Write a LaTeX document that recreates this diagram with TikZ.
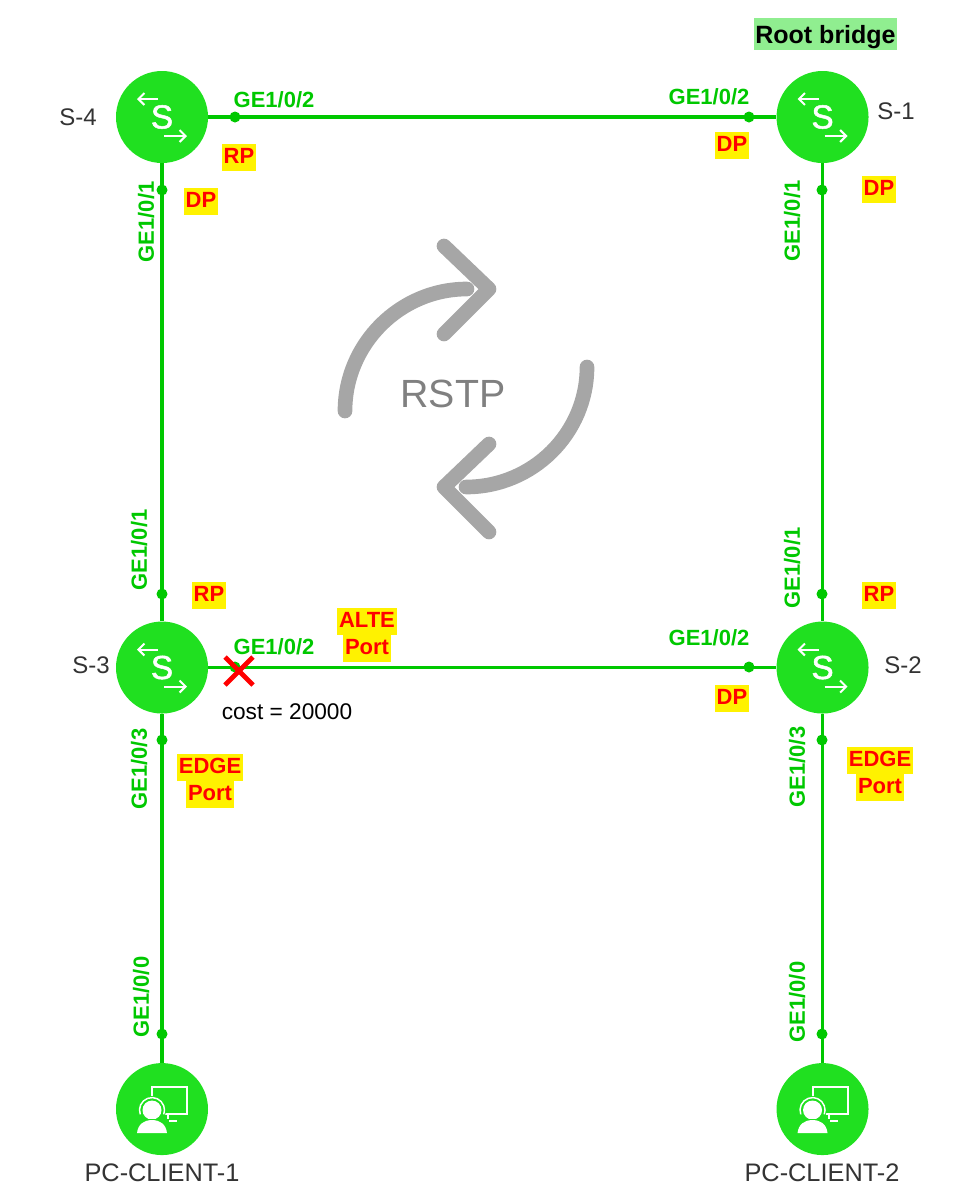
\documentclass[tikz,border=0pt]{standalone}
\usepackage{fontspec}
\setmainfont{Liberation Sans}
\newfontfamily\iconfont[FakeBold=1.5]{Liberation Sans}
\usetikzlibrary{arrows.meta,positioning}
\definecolor{devgreen}{RGB}{32,224,32}
\definecolor{linkgreen}{RGB}{0,200,0}
\definecolor{rootgreen}{RGB}{144,238,144}
\definecolor{loopgray}{RGB}{166,166,166}
\definecolor{namegray}{RGB}{51,51,51}
% yellow strip behind one line of a port role
\newcommand{\hlrole}[1]{\setlength{\fboxsep}{0pt}\colorbox{yellow}{\rule[-5.5pt]{0pt}{20.25pt}\hspace{1.3pt}#1\hspace{1.3pt}}}

\begin{document}
\begin{tikzpicture}[
    x=0.75pt, y=-0.75pt,
    device/.style={circle, fill=devgreen, minimum size=69pt, inner sep=0pt},
    link/.style={linkgreen, line width=2.4pt},
    portdot/.style={circle, fill=linkgreen, minimum size=8.25pt, inner sep=0pt},
    port/.style={text=linkgreen, font=\fontsize{16.5}{19}\selectfont\bfseries, inner sep=0pt},
    vport/.style={port, rotate=90},
    role/.style={text=red, font=\fontsize{16.5}{20.25}\selectfont\bfseries, inner sep=0pt, align=center},
    devname/.style={text=namegray, font=\fontsize{18}{21}\selectfont, inner sep=0pt},
    pcname/.style={devname, font=\fontsize{19}{22}\selectfont},
    loopline/.style={loopgray, line width=11pt, line cap=round, line join=round},
    icon/.style={white, line width=1.5pt},
    swicon/.pic={
        \node[text=white, inner sep=0pt, font=\iconfont\fontsize{25}{25}\selectfont] (-s) at (0,0) {S};
        \draw[icon, -{Straight Barb[length=4.5pt,width=9pt]}] (-4,-18) -- (-25,-18);
        \draw[icon, -{Straight Barb[length=4.5pt,width=9pt]}] (2,19) -- (25,19);
    },
    pcicon/.pic={
        \draw[white, line width=1.5pt] (-10,-22) rectangle (25,5);
        \draw[white, line width=1.5pt] (6,5) -- (6,12) (1,12) -- (15,12);
        \fill[devgreen] (-10,1) circle (14);
        \fill[white] (-10,1) circle (9.5);
        \draw[white, line width=1.1pt] (-10,1) ++(160:12.5) arc (160:380:12.5);
        \fill[devgreen] (-27,10) rectangle (7,24);
        \fill[white] (-25,24) .. controls (-24,15) and (-18,11) .. (-10,11) .. controls (-2,11) and (4,15) .. (5,24) -- cycle;
    }
]
    \useasboundingbox (0,0) rectangle (975,1197);

    % Switches
    \node[device] (s4) at (162,117) {};
    \node[device, right=426pt of s4] (s1) {};
    \node[device, below=343.5pt of s4] (s3) {};
    \node[device, below=343.5pt of s1] (s2) {};

    % Clients
    \node[device, below=261.75pt of s3] (pc1) {};
    \node[device, below=261.75pt of s2] (pc2) {};

    % Icons
    \pic (ics4) at (s4) {swicon};
    \pic (ics1) at (s1) {swicon};
    \pic (ics3) at (s3) {swicon};
    \pic (ics2) at (s2) {swicon};
    \pic (icpc1) at (pc1) {pcicon};
    \pic (icpc2) at (pc2) {pcicon};

    % Links
    \draw[link] (s4) -- (s1);
    \draw[link] (s4) -- (s3);
    \draw[link] (s1) -- (s2);
    \draw[link] (s3) -- (s2);
    \draw[link] (s3) -- (pc1);
    \draw[link] (s2) -- (pc2);

    % Port dots
    \node[portdot] (d4e) at (235,117) {};
    \node[portdot] (d4s) at (162,190) {};
    \node[portdot] (d1w) at (749,117) {};
    \node[portdot] (d1s) at (822,190) {};
    \node[portdot] (d3n) at (162,594) {};
    \node[portdot] (d3e) at (235,667) {};
    \node[portdot] (d3s) at (162,740) {};
    \node[portdot] (d2n) at (822,594) {};
    \node[portdot] (d2w) at (749,667) {};
    \node[portdot] (d2s) at (822,740) {};
    \node[portdot] (dpc1) at (162,1034) {};
    \node[portdot] (dpc2) at (822,1034) {};

    % Port names
    \node[port] (p4e) at (274,100) {GE1/0/2};
    \node[port] (p1w) at (709,97) {GE1/0/2};
    \node[port] (p3e) at (274,647) {GE1/0/2};
    \node[port] (p2w) at (709,638) {GE1/0/2};
    \node[vport] (p4s) at (146,222) {GE1/0/1};
    \node[vport] (p1s) at (792,221) {GE1/0/1};
    \node[vport] (p3n) at (139,550) {GE1/0/1};
    \node[vport] (p2n) at (792,568) {GE1/0/1};
    \node[vport] (p3s) at (139,769) {GE1/0/3};
    \node[vport] (p2s) at (797,767) {GE1/0/3};
    \node[vport] (ppc1) at (141,997) {GE1/0/0};
    \node[vport] (ppc2) at (797,1002) {GE1/0/0};

    % Port roles
    \node[role] (r4e) at (239,157) {\hlrole{RP}};
    \node[role] (r4s) at (201,201) {\hlrole{DP}};
    \node[role] (r1w) at (732,145) {\hlrole{DP}};
    \node[role] (r1s) at (879,189) {\hlrole{DP}};
    \node[role] (r3n) at (209,595) {\hlrole{RP}};
    \node[role] (r2n) at (879,595) {\hlrole{RP}};
    \node[role] (r2w) at (732,698) {\hlrole{DP}};
    \node[role] (r3e) at (367,635) {\hlrole{ALTE}\\\hlrole{Port}};
    \node[role] (r3s) at (210,781) {\hlrole{EDGE}\\\hlrole{Port}};
    \node[role] (r2s) at (880,774) {\hlrole{EDGE}\\\hlrole{Port}};

    % Blocked port
    \coordinate (xa) at (225,657);
    \coordinate (xb) at (253,685);
    \coordinate (xc) at (253,657);
    \coordinate (xd) at (225,685);
    \draw[red, line width=3.5pt] (xa) -- (xb);
    \draw[red, line width=3.5pt] (xc) -- (xd);
    \node[inner sep=0pt, font=\fontsize{17}{20}\selectfont] (cost) at (287,712) {cost = 20000};

    % Device names
    \node[devname] (n4) at (78,117) {S-4};
    \node[devname] (n1) at (896,111) {S-1};
    \node[devname] (n3) at (91,665) {S-3};
    \node[devname] (n2) at (903,665) {S-2};
    \node[pcname] (npc1) at (162,1173) {PC-CLIENT-1};
    \node[pcname] (npc2) at (822,1173) {PC-CLIENT-2};
    \node[fill=rootgreen, inner sep=0pt, text depth=0pt, minimum width=107.5pt, minimum height=24pt, font=\fontsize{18.75}{22}\selectfont\bfseries] (root) at (825.5,34) {Root bridge};

    % RSTP loop
    \node[text=gray, inner sep=0pt, font=\fontsize{29.5}{34}\selectfont] (rstp) at (453,394) {RSTP};
    \coordinate (la) at (345,411);
    \coordinate (lb) at (467,289);
    \coordinate (lc) at (587,367);
    \coordinate (ld) at (466,487);
    \draw[loopline] (la) .. controls (345,344) and (400,289) .. (lb);
    \draw[loopline] (444,246) -- (489,289) -- (444,334);
    \draw[loopline] (lc) .. controls (587,433) and (533,487) .. (ld);
    \draw[loopline] (489,444) -- (444,487) -- (489,532);
\end{tikzpicture}
\end{document}
